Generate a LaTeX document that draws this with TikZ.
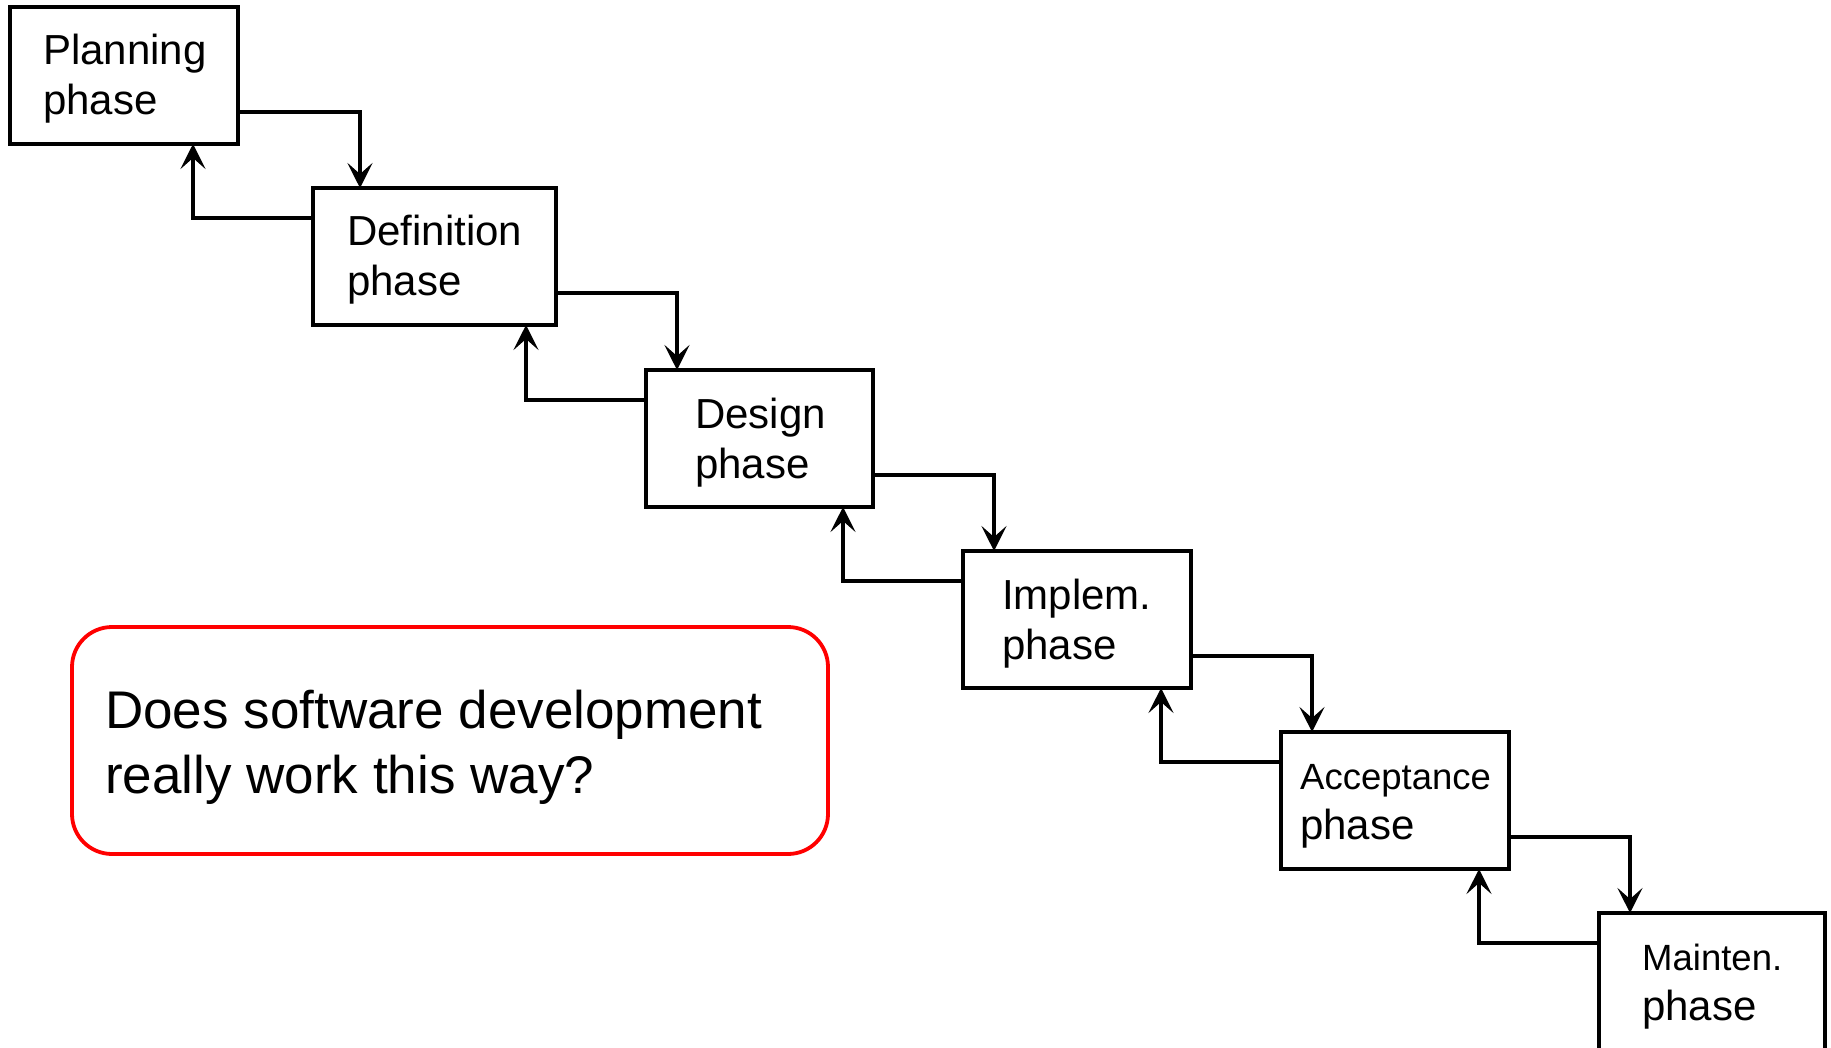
\documentclass[tikz,border=0pt]{standalone}
\usepackage{fontspec}
\setmainfont{Liberation Sans}
\usetikzlibrary{arrows.meta,calc}

\begin{document}
\begin{tikzpicture}[x=1pt,y=-1pt,
  phasebox/.style={draw=black,line width=3.5pt,minimum width=#1,minimum height=137pt,
    inner sep=0pt,outer sep=0pt,anchor=north west},
  phasetext/.style={anchor=base west,inner sep=0pt,align=left,
    font=\fontsize{42}{50}\selectfont},
  flow/.style={line width=3.3pt,-{Stealth[length=25pt,width=25pt,inset=11pt]}}]

\clip (0,0) rectangle (1831,1048);
\fill[white] (0,0) rectangle (1831,1048);

% phase boxes
\node[phasebox=228pt] (plan) at (10,7) {};
\node[phasebox=243pt] (defn) at (313,188) {};
\node[phasebox=227pt] (desg) at (646,370) {};
\node[phasebox=228pt] (impl) at (963,551) {};
\node[phasebox=228pt] (acpt) at (1281,732) {};
\node[phasebox=226pt,minimum height=160pt] (mntn) at (1599,913) {};

% box captions (anchored on the baseline of the second line)
\node[phasetext] (plan-t) at (43,115) {Planning\\phase};
\node[phasetext] (defn-t) at (347,296) {Definition\\phase};
\node[phasetext] (desg-t) at (695,478) {Design\\phase};
\node[phasetext] (impl-t) at (1002,659) {Implem.\\phase};
\node[phasetext] (acpt-t) at (1300,839) {\fontsize{36.5}{50}\selectfont Acceptance\\\fontsize{42}{50}\selectfont phase};
\node[phasetext] (mntn-t) at (1642,1020) {\fontsize{36.5}{50}\selectfont Mainten.\\\fontsize{42}{50}\selectfont phase};

% forward steps
\draw[flow] ([yshift=-105pt]plan.north east) -| ([xshift=47pt]defn.north west);
\draw[flow] ([yshift=-105pt]defn.north east) -| ([xshift=31pt]desg.north west);
\draw[flow] ([yshift=-105pt]desg.north east) -| ([xshift=31pt]impl.north west);
\draw[flow] ([yshift=-105pt]impl.north east) -| ([xshift=31pt]acpt.north west);
\draw[flow] ([yshift=-105pt]acpt.north east) -| ([xshift=31pt]mntn.north west);

% feedback steps
\draw[flow] ([yshift=-30pt]defn.north west) -| ([xshift=-45pt]plan.south east);
\draw[flow] ([yshift=-30pt]desg.north west) -| ([xshift=-30pt]defn.south east);
\draw[flow] ([yshift=-30pt]impl.north west) -| ([xshift=-30pt]desg.south east);
\draw[flow] ([yshift=-30pt]acpt.north west) -| ([xshift=-30pt]impl.south east);
\draw[flow] ([yshift=-30pt]mntn.north west) -| ([xshift=-30pt]acpt.south east);

% question callout
\node[draw=red,line width=3.8pt,rounded corners=40pt,minimum width=756pt,minimum height=227pt,
  inner sep=0pt,outer sep=0pt,anchor=north west] (question) at (72,627) {};
\node[anchor=base west,inner sep=0pt,align=left,font=\fontsize{53}{65}\selectfont]
  (question-t) at (105,793) {Does software development\\really work this way?};

\end{tikzpicture}
\end{document}
